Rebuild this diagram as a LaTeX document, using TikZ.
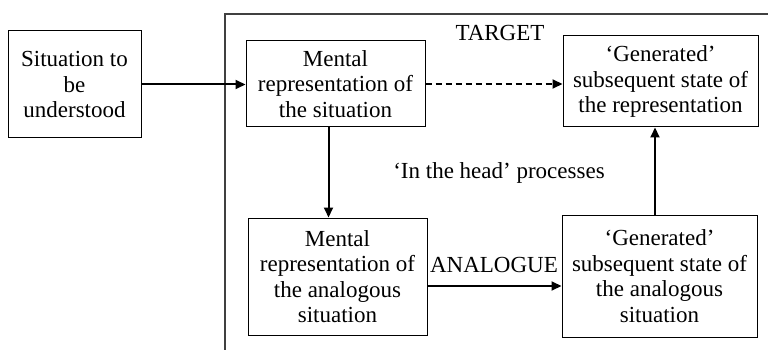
\documentclass[tikz,border=0pt]{standalone}
\usepackage{fontspec}
\setmainfont{Liberation Serif}
\usetikzlibrary{arrows.meta}
\begin{document}
\begin{tikzpicture}[x=1pt,y=-1pt,
  box/.style={draw, line width=1pt, align=center, inner sep=2pt,
    font=\fontsize{23}{25.5}\selectfont},
  lbl/.style={font=\fontsize{23}{25.5}\selectfont, inner sep=0pt},
  conn/.style={line width=2pt, -{Triangle[length=10pt,width=9pt]}}]
\useasboundingbox (0,0) rectangle (768,350);
\draw[line width=1.5pt, black!75] (768,14) -- (225,14) -- (225,350);
\node[box, minimum width=133pt, minimum height=107pt] (sit) at (74.5,84.5)
  {Situation to\\be\\understood};
\node[box, minimum width=179pt, minimum height=86pt] (mr) at (335.5,84)
  {Mental\\representation of\\the situation};
\node[box, minimum width=195pt, minimum height=91pt] (gen1) at (660.5,81.5)
  {`Generated'\\subsequent state of\\the representation};
\node[box, minimum width=179pt, minimum height=117pt] (mra) at (337.5,276.5)
  {Mental\\representation of\\the analogous\\situation};
\node[box, minimum width=195pt, minimum height=122pt] (gen2) at (659.5,276)
  {`Generated'\\subsequent state of\\the analogous\\situation};
\node[lbl] (target) at (500,33) {TARGET};
\node[lbl] (head) at (499,173) {`In the head' processes};
\node[lbl] (analogue) at (494,265) {ANALOGUE};
\coordinate (d1) at ([xshift=-7pt]mr.south);
\coordinate (u1) at ([xshift=-4.5pt]gen2.north);
\coordinate (a1) at ([yshift=-9.5pt]mra.east);
\draw[conn] (sit.east) -- (sit.east -| mr.west);
\draw[conn, dash pattern=on 6pt off 4pt] (mr.east) -- (mr.east -| gen1.west);
\draw[conn] (d1) -- (d1 |- mra.north);
\draw[conn] (u1) -- (u1 |- gen1.south);
\draw[conn] (a1) -- (a1 -| gen2.west);
\end{tikzpicture}
\end{document}
